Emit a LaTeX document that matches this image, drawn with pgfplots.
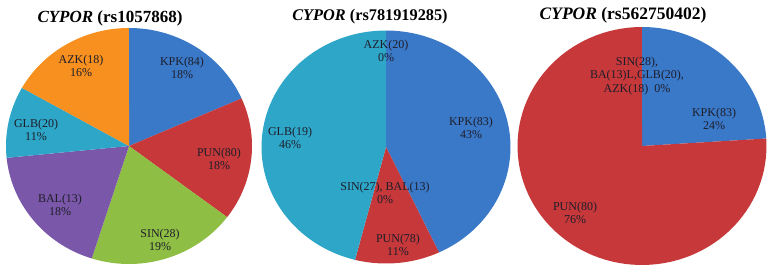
\documentclass[border=0pt]{standalone}
\usepackage{pgfplots}
\usepackage{pgfplotstable}
\pgfplotsset{compat=1.18}
\usepackage{fontspec}
\setmainfont{Liberation Serif}

\definecolor{cKPK}{HTML}{3A78C8}
\definecolor{cPUN}{HTML}{C6383A}
\definecolor{cSIN}{HTML}{8FBE45}
\definecolor{cBAL}{HTML}{7A57A8}
\definecolor{cGLB}{HTML}{2EA6C8}
\definecolor{cAZK}{HTML}{F7901E}
\definecolor{txt}{HTML}{1E1E2A}

% share of each slice (%), read from the wedges, clockwise from 12 o'clock
\pgfplotstableread{
name v c
KPK 18.4 cKPK
PUN 16.9 cPUN
SIN 19.6 cSIN
BAL 18.5 cBAL
GLB 9.8 cGLB
AZK 16.8 cAZK
}\pieA
\pgfplotstableread{
name v c
KPK 43 cKPK
PUN 11 cPUN
SIN 0 cSIN
BAL 0 cBAL
GLB 46 cGLB
AZK 0 cAZK
}\pieB
\pgfplotstableread{
name v c
KPK 24 cKPK
PUN 76 cPUN
SIN 0 cSIN
BAL 0 cBAL
GLB 0 cGLB
AZK 0 cAZK
}\pieC

\newcommand\drawpie[1]{%
  \pgfplotstablegetrowsof{#1}%
  \pgfmathtruncatemacro\lastrow{\pgfplotsretval-1}%
  \def\cum{0}%
  \pgfplotsforeachungrouped \r in {0,...,\lastrow}{%
    \pgfplotstablegetelem{\r}{v}\of{#1}\let\val\pgfplotsretval
    \pgfplotstablegetelem{\r}{c}\of{#1}\let\col\pgfplotsretval
    \pgfmathsetmacro\aS{90-3.6*\cum}%
    \pgfmathsetmacro\aE{90-3.6*(\cum+\val)}%
    \pgfmathtruncatemacro\pos{\val>0}%
    \ifnum\pos=1
      \edef\temp{\noexpand\addplot[fill=\col,draw=none,domain=\aS:\aE,samples=90,variable=\noexpand\t] ({cos(\noexpand\t)},{sin(\noexpand\t)}) -- (axis cs:0,0) -- cycle;}%
      \temp
    \fi
    \pgfmathsetmacro\cum{\cum+\val}%
  }%
}

\pgfplotsset{pieaxis/.style={hide axis, scale only axis, xmin=-1, xmax=1, ymin=-1, ymax=1, anchor=center, clip=false}}

\begin{document}
\begin{tikzpicture}[x=1pt,y=1pt]
\path (0,0) rectangle (772,276);

\begin{axis}[pieaxis, at={(129pt,130pt)}, width=246pt, height=236pt]
\drawpie{\pieA}
\end{axis}
\begin{axis}[pieaxis, at={(386pt,129pt)}, width=249pt, height=233pt]
\drawpie{\pieB}
\end{axis}
\begin{axis}[pieaxis, at={(642pt,130pt)}, width=249pt, height=238pt]
\drawpie{\pieC}
\end{axis}

\tikzset{lab/.style={font=\fontsize{12}{13.5}\selectfont, align=center, text=txt, inner sep=0pt}}
\tikzset{ttl/.style={text=black, inner sep=0pt}}

% titles
\node[ttl] at (110,258) {\fontsize{17}{20}\selectfont\bfseries\itshape CYPOR\/\upshape\ (rs1057868)};
\node[ttl] at (370,259) {\fontsize{16.3}{20}\selectfont\bfseries\itshape CYPOR\/\upshape\ (rs781919285)};
\node[ttl] at (623,261) {\fontsize{17.5}{20}\selectfont\bfseries\itshape CYPOR\/\upshape\ (rs562750402)};

% pie 1 labels
\node[lab] at (182,208) {KPK(84)\\18\%};
\node[lab] at (219,117) {PUN(80)\\18\%};
\node[lab] at (160,36) {SIN(28)\\19\%};
\node[lab] at (60,71) {BAL(13)\\18\%};
\node[lab] at (36,146) {GLB(20)\\11\%};
\node[lab] at (81,210) {AZK(18)\\16\%};

% pie 2 labels
\node[lab] at (386,225) {AZK(20)\\0\%};
\node[lab] at (471,148) {KPK(83)\\43\%};
\node[lab] at (290,138) {GLB(19)\\46\%};
\node[lab] at (385,83) {SIN(27), BAL(13)\\0\%};
\node[lab] at (398,31) {PUN(78)\\11\%};

% pie 3 labels
\node[lab] at (637,200) {SIN(28),\\BA(13)L,GLB(20),\\AZK(18)~~0\%};
\node[lab] at (714,157) {KPK(83)\\24\%};
\node[lab] at (575,63) {PUN(80)\\76\%};
\end{tikzpicture}
\end{document}
